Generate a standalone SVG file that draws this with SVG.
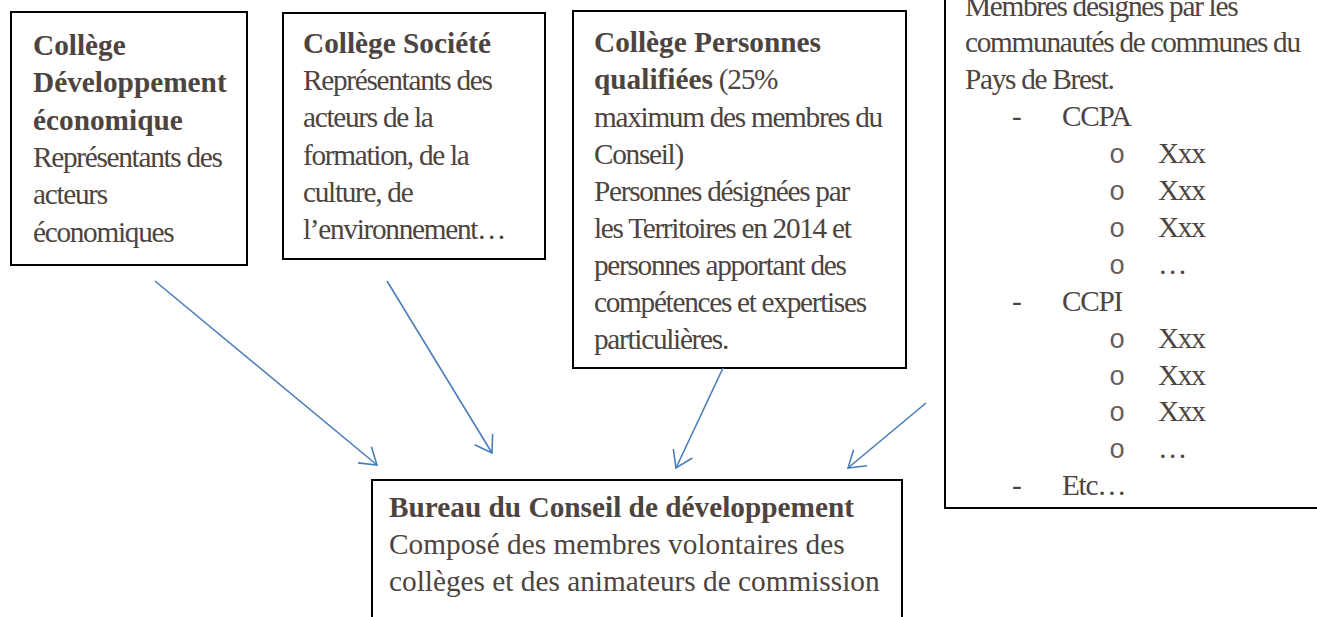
<svg xmlns="http://www.w3.org/2000/svg" width="1317" height="617" viewBox="0 0 1317 617">
<style>
  .box { fill: #ffffff; stroke: #000000; stroke-width: 2; }
  text { font-family: "Liberation Serif", "Times New Roman", serif; fill: #4d4440; font-size: 29.3px; }
  .b { font-weight: bold; }
  .r { letter-spacing: -1.3px; }
  .m { font-family: "Liberation Mono", "Courier New", monospace; font-size: 27px; fill: #665d59; }
  .conn { fill: none; stroke: #4a7ebb; stroke-width: 1.6; }
</style>
<defs>
  <marker id="arr" viewBox="0 0 16 21" refX="16" refY="10.5" markerWidth="16" markerHeight="21" markerUnits="userSpaceOnUse" orient="auto" overflow="visible">
    <path d="M0,0 L16,10.5 L0,21" fill="none" stroke="#4a7ebb" stroke-width="1.6"/>
  </marker>
</defs>
<rect width="1317" height="617" fill="#ffffff"/>

<g id="college-dev-eco">
  <rect class="box" x="11" y="12" width="236" height="253"/>
  <text class="b" x="33" y="55">Collège</text>
  <text class="b" x="33" y="92">Développement</text>
  <text class="b" x="33" y="130">économique</text>
  <text class="r" x="33" y="167">Représentants des</text>
  <text class="r" x="33" y="204">acteurs</text>
  <text class="r" x="33" y="242">économiques</text>
</g>

<g id="college-societe">
  <rect class="box" x="283" y="13" width="262" height="246"/>
  <text class="b" x="303" y="53">Collège Société</text>
  <text class="r" x="303" y="90">Représentants des</text>
  <text class="r" x="303" y="127">acteurs de la</text>
  <text class="r" x="303" y="165">formation, de la</text>
  <text class="r" x="303" y="202">culture, de</text>
  <text class="r" x="303" y="239">l’environnement…</text>
</g>

<g id="college-personnes-qualifiees">
  <rect class="box" x="573" y="11" width="333" height="357"/>
  <text class="b" x="594" y="52">Collège Personnes</text>
  <text x="594" y="89"><tspan class="b">qualifiées</tspan><tspan class="r"> (25%</tspan></text>
  <text class="r" x="594" y="127">maximum des membres du</text>
  <text class="r" x="594" y="164">Conseil)</text>
  <text class="r" x="594" y="201">Personnes désignées par</text>
  <text class="r" x="594" y="238">les Territoires en 2014 et</text>
  <text class="r" x="594" y="275">personnes apportant des</text>
  <text class="r" x="594" y="312">compétences et expertises</text>
  <text class="r" x="594" y="349">particulières.</text>
</g>

<g id="college-territoires">
  <rect class="box" x="945" y="-20" width="390" height="528"/>
  <text class="r" x="965" y="15.5">Membres désignés par les</text>
  <text class="r" x="965" y="52.4">communautés de communes du</text>
  <text class="r" x="965" y="89.3">Pays de Brest.</text>
  <text class="r" x="1012" y="126.2">-</text>
  <text class="r" x="1062" y="126.2">CCPA</text>
  <text class="m" x="1109" y="163.1">o</text>
  <text class="r" x="1158" y="163.1">Xxx</text>
  <text class="m" x="1109" y="200">o</text>
  <text class="r" x="1158" y="200">Xxx</text>
  <text class="m" x="1109" y="236.9">o</text>
  <text class="r" x="1158" y="236.9">Xxx</text>
  <text class="m" x="1109" y="273.8">o</text>
  <text class="r" x="1158" y="273.8">…</text>
  <text class="r" x="1012" y="310.7">-</text>
  <text class="r" x="1062" y="310.7">CCPI</text>
  <text class="m" x="1109" y="347.6">o</text>
  <text class="r" x="1158" y="347.6">Xxx</text>
  <text class="m" x="1109" y="384.5">o</text>
  <text class="r" x="1158" y="384.5">Xxx</text>
  <text class="m" x="1109" y="421.4">o</text>
  <text class="r" x="1158" y="421.4">Xxx</text>
  <text class="m" x="1109" y="458.3">o</text>
  <text class="r" x="1158" y="458.3">…</text>
  <text class="r" x="1012" y="495.2">-</text>
  <text class="r" x="1062" y="495.2">Etc…</text>
</g>

<g id="bureau">
  <rect class="box" x="372" y="480" width="530" height="160"/>
  <text class="b" x="389" y="517">Bureau du Conseil de développement</text>
  <text x="389" y="554">Composé des membres volontaires des</text>
  <text x="389" y="591">collèges et des animateurs de commission</text>
</g>

<g id="connectors">
  <line class="conn" x1="155" y1="281" x2="377" y2="465" marker-end="url(#arr)"/>
  <line class="conn" x1="387" y1="281" x2="492" y2="453" marker-end="url(#arr)"/>
  <line class="conn" x1="723" y1="368" x2="676" y2="468" marker-end="url(#arr)"/>
  <line class="conn" x1="926" y1="403" x2="848" y2="468" marker-end="url(#arr)"/>
</g>
</svg>
